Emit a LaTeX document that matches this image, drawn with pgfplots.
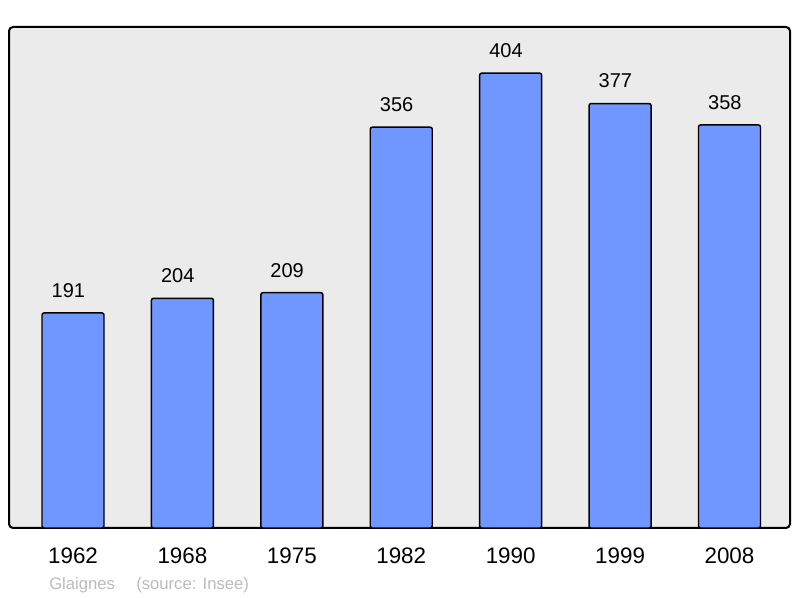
\documentclass[border=0pt]{standalone}
\usepackage{pgfplots}
\pgfplotsset{compat=1.18}
\usepackage{fontspec}
\setmainfont{Liberation Sans}
\definecolor{barblue}{HTML}{7096FF}
\definecolor{bggray}{HTML}{EBEBEB}
\definecolor{footgray}{HTML}{BBBBBB}
\begin{document}
\begin{tikzpicture}
\path[use as bounding box] (0,0) rectangle (600pt,448.5pt);
\begin{axis}[
  at={(6.75pt,52.5pt)}, anchor=south west,
  scale only axis, width=585.75pt, height=375.75pt,
  xmin=-0.585, xmax=6.553, ymin=0, ymax=445,
  ybar, bar width=46.5pt,
  axis line style={draw=none},
  axis background/.style={fill=bggray, draw=black, line width=1.5pt, rounded corners=3pt},
  ytick=\empty,
  xtick=data,
  xticklabels={1962,1968,1975,1982,1990,1999,2008},
  major tick length=0pt,
  xticklabel style={font=\fontsize{16.8pt}{18pt}\selectfont, inner sep=0pt, anchor=north, yshift=-15pt},
  nodes near coords,
  /pgf/number format/assume math mode=true,
  every node near coord/.append style={font=\fontsize{15pt}{17pt}\selectfont, inner sep=0pt, anchor=south, yshift=11pt, xshift=-3.5pt, text=black},
  clip=false,
]
\addplot[fill=barblue, draw=black, line width=1.1pt, rounded corners=1.5pt] coordinates {
(0,191) (1,204) (2,209) (3,356) (4,404) (5,377) (6,358)};
\end{axis}
\node[anchor=base west, inner sep=0pt, text=footgray, font=\fontsize{12.5pt}{14pt}\selectfont] at (36.75pt,6pt) {Glaignes};
\node[anchor=base west, inner sep=0pt, text=footgray, font=\fontsize{12.5pt}{14pt}\selectfont] at (102pt,6pt) {(source: Insee)};
\end{tikzpicture}
\end{document}
